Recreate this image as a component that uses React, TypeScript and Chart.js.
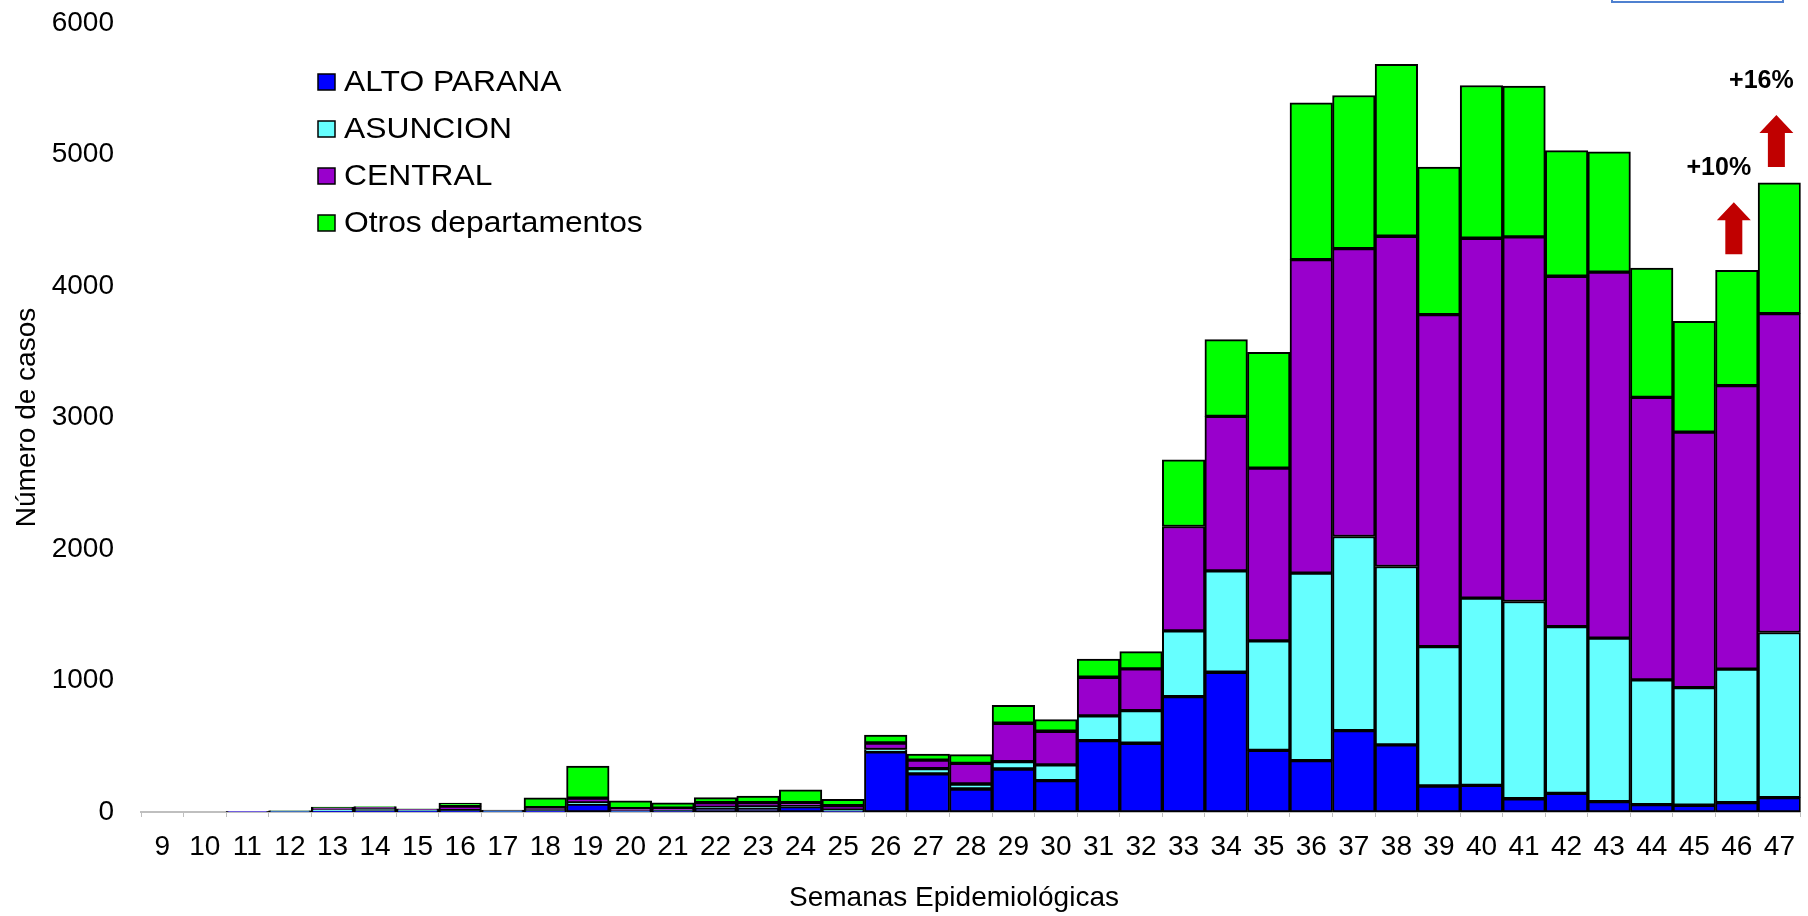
import React, { useEffect, useRef } from "react";
import { Chart, registerables } from "chart.js";

Chart.register(...registerables);

const weeks = [
  "9", "10", "11", "12", "13", "14", "15", "16", "17", "18", "19", "20", "21",
  "22", "23", "24", "25", "26", "27", "28", "29", "30", "31", "32", "33", "34",
  "35", "36", "37", "38", "39", "40", "41", "42", "43", "44", "45", "46", "47",
];

const altoParana = [
  0, 0, 1, 2, 5, 5, 5, 5, 3, 10, 60, 3, 8, 30, 30, 41, 8, 458, 290, 175, 327,
  238, 543, 523, 877, 1063, 469, 391, 619, 510, 198, 203, 101, 142, 79, 56, 51,
  71, 109,
];

const asuncion = [
  0, 0, 1, 3, 10, 20, 8, 5, 3, 3, 10, 3, 3, 5, 8, 5, 5, 17, 40, 38, 56, 120,
  188, 248, 500, 771, 832, 1425, 1476, 1357, 1060, 1423, 1500, 1268, 1243, 949,
  895, 1015, 1256,
];

const central = [
  0, 0, 1, 3, 18, 12, 8, 35, 5, 20, 35, 20, 18, 36, 33, 25, 35, 50, 65, 157,
  292, 256, 294, 317, 794, 1175, 1314, 2385, 2189, 2511, 2524, 2737, 2773, 2664,
  2783, 2148, 1943, 2156, 2425,
];

const otros = [
  0, 0, 0, 1, 5, 5, 4, 23, 4, 75, 245, 58, 40, 38, 51, 97, 49, 60, 45, 66, 137,
  89, 137, 132, 508, 583, 881, 1192, 1165, 1307, 1122, 1162, 1146, 956, 915,
  984, 843, 878, 994,
];

const seriesLabels = ["ALTO PARANA", "ASUNCION", "CENTRAL", "Otros departamentos"];
const seriesColors = ["#0000FF", "#66FFFF", "#9900CC", "#00FF00"];

const yMin = 0;
const yMax = 6000;
const yStep = 1000;

const xTitle = "Semanas Epidemiológicas";
const yTitle = "Número de casos";

const changeWeeks = ["46", "47"];
const changeLabels = ["+10%", "+16%"];

const FONT = "'Liberation Sans', Arial, Helvetica, sans-serif";

const overlayPlugin = {
  id: "overlay",
  afterDatasetsDraw(chart: any) {
    const ctx = chart.ctx as CanvasRenderingContext2D;
    const xs = chart.scales.x;
    const ys = chart.scales.y;
    ctx.save();
    changeWeeks.forEach((wk, i) => {
      const idx = weeks.indexOf(wk);
      const total = altoParana[idx] + asuncion[idx] + central[idx] + otros[idx];
      const cx = xs.getPixelForValue(idx) - 3;
      const top = ys.getPixelForValue(total);
      const bottom = top - 16;
      const headTop = bottom - 52;
      const headBase = headTop + 18;
      ctx.fillStyle = "#C00000";
      ctx.beginPath();
      ctx.moveTo(cx, headTop);
      ctx.lineTo(cx + 17, headBase);
      ctx.lineTo(cx + 8.5, headBase);
      ctx.lineTo(cx + 8.5, bottom);
      ctx.lineTo(cx - 8.5, bottom);
      ctx.lineTo(cx - 8.5, headBase);
      ctx.lineTo(cx - 17, headBase);
      ctx.closePath();
      ctx.fill();
      ctx.fillStyle = "#000";
      ctx.font = `bold 25px ${FONT}`;
      ctx.textAlign = "center";
      ctx.textBaseline = "middle";
      ctx.fillText(changeLabels[i], cx - 15, bottom - 86);
    });
    ctx.restore();
  },
  afterDraw(chart: any) {
    const ctx = chart.ctx as CanvasRenderingContext2D;
    ctx.save();
    const lx = 318;
    const ly0 = 82;
    const gap = 47;
    chart.data.datasets.forEach((ds: any, i: number) => {
      const y = ly0 + i * gap;
      ctx.fillStyle = ds.backgroundColor;
      ctx.fillRect(lx, y - 8, 17, 16);
      ctx.strokeStyle = "#000";
      ctx.lineWidth = 1.5;
      ctx.strokeRect(lx, y - 8, 17, 16);
      ctx.fillStyle = "#000";
      ctx.font = `30px ${FONT}`;
      ctx.textAlign = "left";
      ctx.textBaseline = "middle";
      ctx.save();
      ctx.translate(lx + 26, y + 1);
      ctx.scale(1.06, 1);
      ctx.fillText(ds.label, 0, 0);
      ctx.restore();
    });
    ctx.fillStyle = "#000";
    ctx.font = `28px ${FONT}`;
    ctx.textAlign = "center";
    ctx.textBaseline = "middle";
    ctx.fillText(xTitle, 954, 898);
    ctx.strokeStyle = "#4F81D0";
    ctx.lineWidth = 2;
    ctx.strokeRect(1612, -20, 171, 22);
    ctx.restore();
  },
};

export default function App() {
  const canvasRef = useRef<HTMLCanvasElement | null>(null);

  useEffect(() => {
    if (!canvasRef.current) return;
    const data = [altoParana, asuncion, central, otros];
    const chart = new Chart(canvasRef.current, {
      type: "bar",
      data: {
        labels: weeks,
        datasets: seriesLabels.map((label, i) => ({
          label,
          data: data[i],
          backgroundColor: seriesColors[i],
          borderColor: "#000000",
          borderWidth: 2,
          borderSkipped: false,
          categoryPercentage: 1.0,
          barPercentage: 1.0,
        })),
      },
      options: {
        animation: false,
        responsive: false,
        maintainAspectRatio: false,
        devicePixelRatio: 1,
        layout: { padding: { top: 23, right: 4, left: 0, bottom: 0 } },
        font: { family: FONT },
        plugins: {
          legend: { display: false },
          tooltip: { enabled: false },
          title: { display: false },
        },
        scales: {
          x: {
            stacked: true,
            offset: true,
            grid: {
              display: true,
              drawOnChartArea: false,
              drawTicks: true,
              tickLength: 5,
              color: "#BFBFBF",
              offset: true,
            },
            border: { display: true, color: "#BFBFBF", width: 2 },
            ticks: {
              color: "#000",
              font: { family: FONT, size: 28 },
              padding: 13,
              maxRotation: 0,
              autoSkip: false,
            },
            afterFit(scale: any) {
              scale.height = 104;
              scale.paddingTop = 0;
              scale.paddingBottom = 0;
            },
          },
          y: {
            stacked: true,
            min: yMin,
            max: yMax,
            grid: { display: false },
            border: { display: false },
            ticks: {
              stepSize: yStep,
              color: "#000",
              font: { family: FONT, size: 28 },
              padding: 19,
              callback: (v: any) => String(v),
            },
            title: {
              display: true,
              text: yTitle,
              color: "#000",
              font: { family: FONT, size: 28 },
              padding: { top: 10, bottom: 8 },
            },
            afterFit(scale: any) {
              scale.width = 141;
              scale.paddingTop = 0;
              scale.paddingBottom = 0;
            },
          },
        },
      },
      plugins: [overlayPlugin],
    } as any);
    return () => chart.destroy();
  }, []);

  return (
    <div style={{ position: "fixed", left: 0, top: 0, width: 1808, height: 916, background: "#fff" }}>
      <canvas ref={canvasRef} width={1808} height={916} style={{ width: 1808, height: 916, display: "block" }} />
    </div>
  );
}
